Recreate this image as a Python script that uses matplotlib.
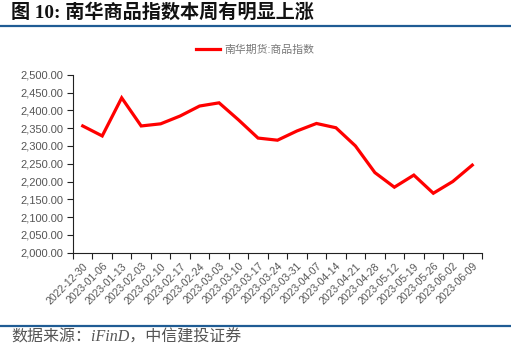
import matplotlib
matplotlib.use("Agg")
import matplotlib.pyplot as plt
from matplotlib.lines import Line2D
from matplotlib.ticker import FuncFormatter, FixedLocator
import numpy as np

dates = ["2022-12-30", "2023-01-06", "2023-01-13", "2023-02-03", "2023-02-10",
         "2023-02-17", "2023-02-24", "2023-03-03", "2023-03-10", "2023-03-17",
         "2023-03-24", "2023-03-31", "2023-04-07", "2023-04-14", "2023-04-21",
         "2023-04-28", "2023-05-12", "2023-05-19", "2023-05-26", "2023-06-02",
         "2023-06-09"]
nanhua_index = [2356, 2328, 2435, 2356, 2362, 2384, 2412, 2421, 2373, 2322,
                2316, 2342, 2363, 2351, 2300, 2225, 2184, 2218, 2167, 2200,
                2246]
series_name = "南华期货:商品指数"
title_text = "图 10: 南华商品指数本周有明显上涨"
source_text = "数据来源：iFinD，中信建投证券"

plt.rcParams['font.family'] = ['Liberation Sans', 'Noto Sans CJK SC', 'DejaVu Sans']

fig = plt.figure(figsize=(5.11, 3.5), dpi=100)
ax = fig.add_axes([73 / 511, 1 - 252.7 / 350, (482 - 73) / 511, (252.7 - 74.7) / 350])

x = np.arange(len(dates))
line, = ax.plot(x, nanhua_index, color="#FF0000", lw=2.3, solid_joinstyle="miter")

ax.set_xlim(-0.5, len(dates) - 0.5)
ax.set_ylim(2000, 2500)
ax.set_yticks(np.arange(2000, 2501, 50))
ax.yaxis.set_major_formatter(FuncFormatter(lambda v, p: f"{v:,.2f}"))

ax.set_xticks(x)
ax.set_xticklabels(dates, rotation=45, ha="right", rotation_mode="anchor")
ax.xaxis.set_minor_locator(FixedLocator(np.arange(-0.5, len(dates), 1.0)))
ax.tick_params(axis="x", which="major", length=0, pad=6, labelsize=7.5, labelcolor="#555555")
ax.tick_params(axis="x", which="minor", length=4, width=0.8, color="#222222", direction="out")
ax.tick_params(axis="y", length=4, width=0.8, color="#222222", labelsize=8,
               labelcolor="#555555", pad=3)

for s in ["top", "right"]:
    ax.spines[s].set_visible(False)
for s in ["left", "bottom"]:
    ax.spines[s].set_color("#222222")
    ax.spines[s].set_linewidth(0.8)

leg = fig.legend([line], [series_name], loc="center", bbox_to_anchor=(255 / 511, 1 - 50 / 350),
                 frameon=False, fontsize=7.8, handlelength=2.2, handletextpad=0.4)
for t in leg.get_texts():
    t.set_color("#777777")

fig.text(11 / 511, 1 - 13 / 350, title_text, fontsize=13.8, fontweight="bold",
         family=['Liberation Serif', 'Noto Sans CJK SC'], va="center", ha="left", color="#111111")
fig.add_artist(Line2D([0, 1], [1 - 25.5 / 350] * 2, color="#1F5C94", lw=1.6))
fig.add_artist(Line2D([0, 1], [1 - 325.5 / 350] * 2, color="#1F5C94", lw=1.6))
fig.text(11 / 511, 1 - 338 / 350, source_text, fontsize=11.5, style="italic",
         family=['Liberation Serif', 'Noto Sans CJK SC'], va="center", ha="left", color="#555555")

fig.savefig("out.png", dpi=100)
